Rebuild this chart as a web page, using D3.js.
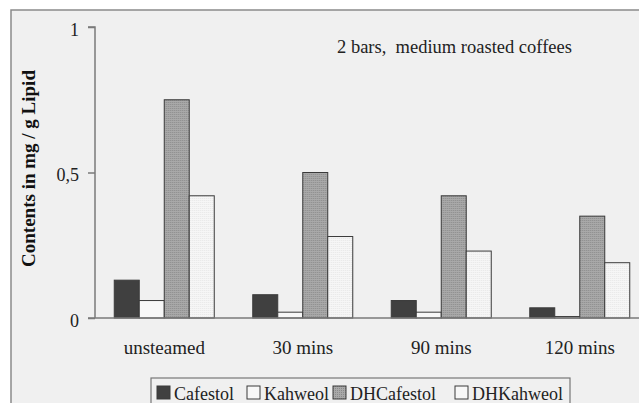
<!DOCTYPE html>
<html><head><meta charset="utf-8">
<script src="https://cdn.jsdelivr.net/npm/d3@7"></script>
<style>html,body{margin:0;padding:0;background:#fff;overflow:hidden}
svg text{font-family:"Liberation Serif","Times New Roman",serif}</style>
</head><body>
<svg id="c" width="639" height="403"></svg>
<script>
const categories = ["unsteamed", "30 mins", "90 mins", "120 mins"];
const seriesNames = ["Cafestol", "Kahweol", "DHCafestol", "DHKahweol"];
const cafestol = [0.13, 0.08, 0.06, 0.035];
const kahweol = [0.06, 0.02, 0.02, 0.005];
const dhCafestol = [0.75, 0.50, 0.42, 0.35];
const dhKahweol = [0.42, 0.28, 0.23, 0.19];
const yTickValues = [0, 0.5, 1];
const yTickLabels = ["0", "0,5", "1"];
const yTitle = "Contents in mg / g Lipid";
const note = "2 bars,  medium roasted coffees";

const seriesValues = [cafestol, kahweol, dhCafestol, dhKahweol];
const fills = ["#404040", "#f7f7f7", "url(#pDark)", "url(#pLight)"];
const legendFills = ["#404040", "#f7f7f7", "url(#pDark)", "#f7f7f7"];

const svg = d3.select("#c");
const font = "Liberation Serif";

const defs = svg.append("defs");
const p1 = defs.append("pattern").attr("id","pDark").attr("patternUnits","userSpaceOnUse").attr("width",2).attr("height",2);
p1.append("rect").attr("width",2).attr("height",2).attr("fill","#a9a9a9");
p1.append("rect").attr("width",1).attr("height",1).attr("fill","#8a8a8a");
const p2 = defs.append("pattern").attr("id","pLight").attr("patternUnits","userSpaceOnUse").attr("width",2).attr("height",2);
p2.append("rect").attr("width",2).attr("height",2).attr("fill","#f6f6f6");
p2.append("rect").attr("width",1).attr("height",1).attr("fill","#e6e6e6");

// frame
svg.append("rect").attr("x",11).attr("y",10).attr("width",700).attr("height",500)
  .attr("fill","#f0f0f0").attr("stroke","#8a8a8a").attr("stroke-width",1.5);

const x0 = 95, y0 = 318, yTop = 27;
const x = d3.scaleBand().domain(categories).range([x0, x0 + 4*138.5]).paddingInner(0.278).paddingOuter(0.139);
const xs = d3.scaleBand().domain(seriesNames).range([0, x.bandwidth()]);
const y = d3.scaleLinear().domain([0,1]).range([y0, yTop]);

// bars
categories.forEach((c, i) => {
  const g = svg.append("g").attr("transform", `translate(${x(c)},0)`);
  g.selectAll("rect").data(seriesNames).join("rect")
    .attr("x", s => xs(s)).attr("width", xs.bandwidth())
    .attr("y", (s, j) => y(seriesValues[j][i]))
    .attr("height", (s, j) => y0 - y(seriesValues[j][i]))
    .attr("fill", (s, j) => fills[j])
    .attr("stroke", "#3a3a3a").attr("stroke-width", 1);
});

// y axis
const yAxis = d3.axisLeft(y).tickValues(yTickValues).tickSize(7).tickFormat((d,i)=>yTickLabels[i]);
const ya = svg.append("g").attr("transform",`translate(${x0},0)`).call(yAxis).attr("font-family",null);
ya.select(".domain").attr("stroke","#7a7a7a").attr("stroke-width",1.5).attr("d",`M-7,${yTop}H0V${y0}`);
ya.selectAll(".tick line").attr("stroke","#7a7a7a").attr("stroke-width",1.5);
ya.selectAll(".tick text").style("font-family",font).style("font-size","18px").attr("fill","#222")
  .attr("x",-16).attr("dy","0.45em");

// x axis
const xAxis = d3.axisBottom(x).tickSize(0).tickPadding(23);
const xa = svg.append("g").attr("transform",`translate(0,${y0})`).call(xAxis).attr("font-family",null);
xa.select(".domain").attr("stroke","#7a7a7a").attr("stroke-width",1.5).attr("d",`M88,0H639`);
xa.selectAll(".tick text").style("font-family",font).style("font-size","19px").attr("fill","#222");

// y title
svg.append("text").attr("transform",`translate(35,${(y0+yTop)/2-4}) rotate(-90)`)
  .attr("text-anchor","middle").style("font-family",font).style("font-weight","bold")
  .style("font-size","19px").attr("fill","#111").text(yTitle);

// note
svg.append("text").attr("x",337).attr("y",53).style("font-family",font).style("font-size","18.5px")
  .attr("fill","#222").style("white-space","pre").text(note);

// legend
svg.append("rect").attr("x",151).attr("y",378).attr("width",419).attr("height",40)
  .attr("fill","#f0f0f0").attr("stroke","#777").attr("stroke-width",1.2);
const legX = [157, 247, 333, 455];
const lg = svg.selectAll("g.leg").data(seriesNames).join("g").attr("class","leg")
  .attr("transform",(d,i)=>`translate(${legX[i]},386)`);
lg.append("rect").attr("width",13).attr("height",13).attr("fill",(d,i)=>legendFills[i])
  .attr("stroke","#3a3a3a").attr("stroke-width",1);
lg.append("text").attr("x",17).attr("y",13.5).style("font-family",font).style("font-size","18px")
  .attr("fill","#222").text(d=>d);
</script>
</body></html>
